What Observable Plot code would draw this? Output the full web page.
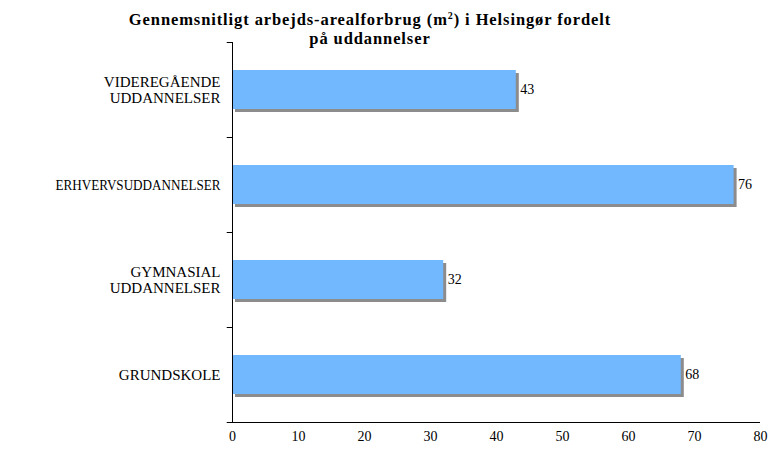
<!DOCTYPE html>
<html>
<head>
<meta charset="utf-8">
<script src="https://cdn.jsdelivr.net/npm/d3@7"></script>
<script src="https://cdn.jsdelivr.net/npm/@observablehq/plot@0.6"></script>
<style>
  body { margin: 0; background: #fff; }
  #wrap { position: relative; width: 769px; height: 451px; }
  .title { position: absolute; left: 0; width: 740px; text-align: center; white-space: nowrap;
    font-family: "Liberation Serif", "DejaVu Serif", serif; font-weight: bold; font-size: 16.5px; letter-spacing: 0.9px; line-height: 17px; color: #000; z-index: 2; }
  #t1 { top: 11px; }
  #t2 { top: 30px; }
  .title sup { font-size: 10px; vertical-align: 6px; line-height: 0; }
  svg { position: absolute; left: 0; top: 0; }
</style>
</head>
<body>
<div id="wrap">
  <div class="title" id="t1">Gennemsnitligt arbejds-arealforbrug (m<sup>2</sup>) i Helsingør fordelt</div>
  <div class="title" id="t2">på uddannelser</div>
</div>
<script>
const categories = ["VIDEREGÅENDE UDDANNELSER", "ERHVERVSUDDANNELSER", "GYMNASIAL UDDANNELSER", "GRUNDSKOLE"];
const categoryLabels = ["VIDEREGÅENDE\nUDDANNELSER", "ERHVERVSUDDANNELSER", "GYMNASIAL\nUDDANNELSER", "GRUNDSKOLE"];
const values = [43, 76, 32, 68];
const xTicks = [0, 10, 20, 30, 40, 50, 60, 70, 80];

const data = categories.map((c, i) => ({cat: c, label: categoryLabels[i], value: values[i]}));
const serif = "Liberation Serif, DejaVu Serif, serif";
const step = 95;

const chart = Plot.plot({
  width: 769,
  height: 451,
  marginLeft: 232,
  marginRight: 9,
  marginTop: 42,
  marginBottom: 29,
  style: {fontFamily: serif, fontSize: "14px", color: "#000", background: "transparent"},
  x: {domain: [0, 80], ticks: xTicks, axis: null, label: null},
  y: {domain: categories, paddingInner: 0.59, paddingOuter: 0.295, axis: null},
  marks: [
    // shadow
    Plot.barX(data, {y: "cat", x: "value", fill: "#8c8c8c", dx: 3, dy: 3}),
    Plot.barX(data, {y: "cat", x: "value", fill: "#72b8ff"}),
    // value labels
    Plot.text(data, {y: "cat", x: "value", text: d => String(d.value), textAnchor: "start", dx: 4, fontSize: 14, fill: "#000"}),
    // category labels
    Plot.text(data, {y: "cat", x: 0, text: "label", textAnchor: "end", dx: -12, fontSize: 15, lineHeight: 1.05, fill: "#000"}),
    // y-axis line
    Plot.ruleX([0], {stroke: "#000", strokeWidth: 1}),
    // y ticks at band boundaries
    Plot.ruleY(data, {y: "cat", x1: -0.8, x2: 0, dy: -step / 2, stroke: "#000"}),
    Plot.ruleY([data[data.length - 1]], {y: "cat", x1: -0.8, x2: 0, dy: step / 2, stroke: "#000"}),
    // x-axis line
    Plot.ruleY([data[data.length - 1]], {y: "cat", x1: 0, x2: 80, dy: step / 2, stroke: "#000"}),
    // x tick labels
    Plot.axisX({ticks: xTicks, tickSize: 0, tickPadding: 9, fontSize: 14, anchor: "bottom", label: null, tickFormat: d => String(d)})
  ]
});
// compress the long single-line label like the reference
chart.querySelectorAll("text").forEach(t => {
  if (t.textContent === "ERHVERVSUDDANNELSER") {
    t.setAttribute("textLength", "165");
    t.setAttribute("lengthAdjust", "spacingAndGlyphs");
  }
});
document.getElementById("wrap").prepend(chart);
</script>
</body>
</html>
